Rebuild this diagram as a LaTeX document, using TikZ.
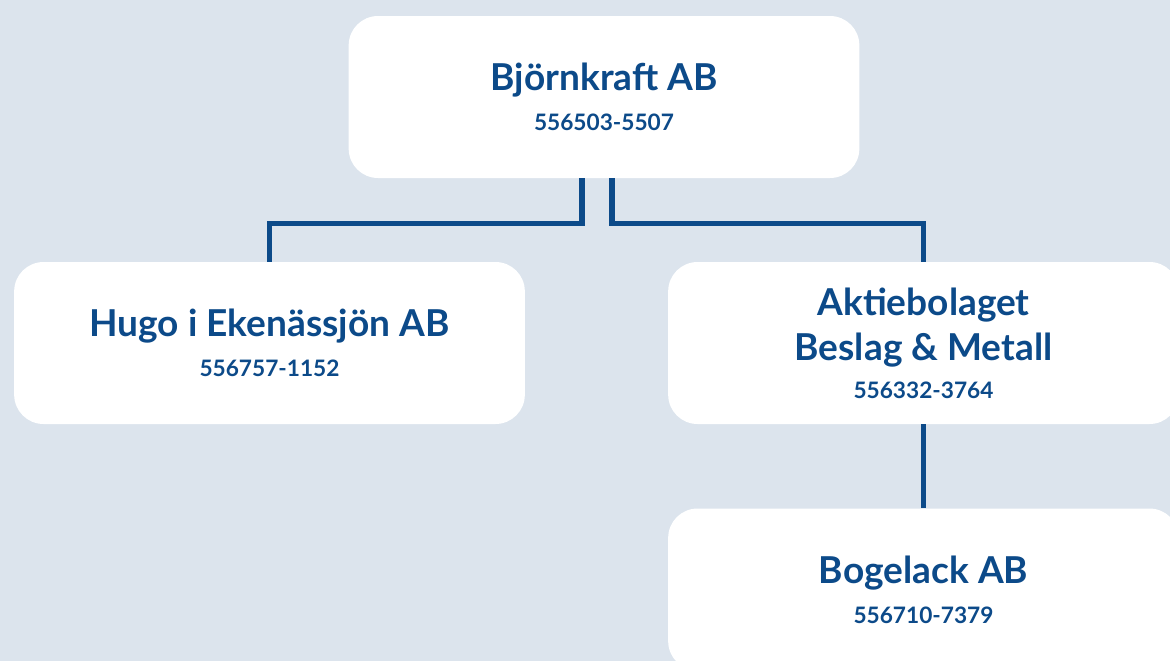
\documentclass[tikz,border=0pt]{standalone}
\usepackage{fontspec}
\setmainfont{Lato}
\usetikzlibrary{positioning, calc}
\definecolor{orgblue}{HTML}{0C4A89}
\definecolor{orgbg}{HTML}{DCE4ED}
\tikzset{
company/.style={fill=white, rounded corners=22pt, minimum width=383pt, minimum height=121.5pt, inner sep=0pt, align=center, text=orgblue, font=\bfseries\fontsize{27.8}{34}\selectfont}, % white company boxes
link/.style={draw=orgblue, line width=3.8pt}, % ownership lines
}
\newcommand{\orgnr}[1]{{\fontsize{17}{20}\selectfont #1}}
\begin{document}
\begin{tikzpicture}[x=0.75pt, y=-0.75pt]
    \useasboundingbox (0,0) rectangle (1170,661);
    \clip (0,0) rectangle (1170,661);
    \fill[orgbg] (0,0) rectangle (1170,661);

    \node[company] (bjorn) at (604,97) {Björnkraft AB\\[-4pt]\orgnr{556503-5507}};
    \node[company] (hugo) at (269.5,343) {Hugo i Ekenässjön AB\\[-4pt]\orgnr{556757-1152}};
    \node[company] (beslag) at (923.5,343) {Aktiebolaget\\Beslag \& Metall\\[-6pt]\orgnr{556332-3764}};
    \node[company, below=63pt of beslag] (bogelack) {Bogelack AB\\[-4pt]\orgnr{556710-7379}};

    \draw[link] ([xshift=-16.5pt]bjorn.south) -- ++(0,45) -| (hugo.north);
    \draw[link] ([xshift=6pt]bjorn.south) -- ++(0,45) -| (beslag.north);
    \draw[link] (beslag) -- (bogelack);
\end{tikzpicture}
\end{document}
